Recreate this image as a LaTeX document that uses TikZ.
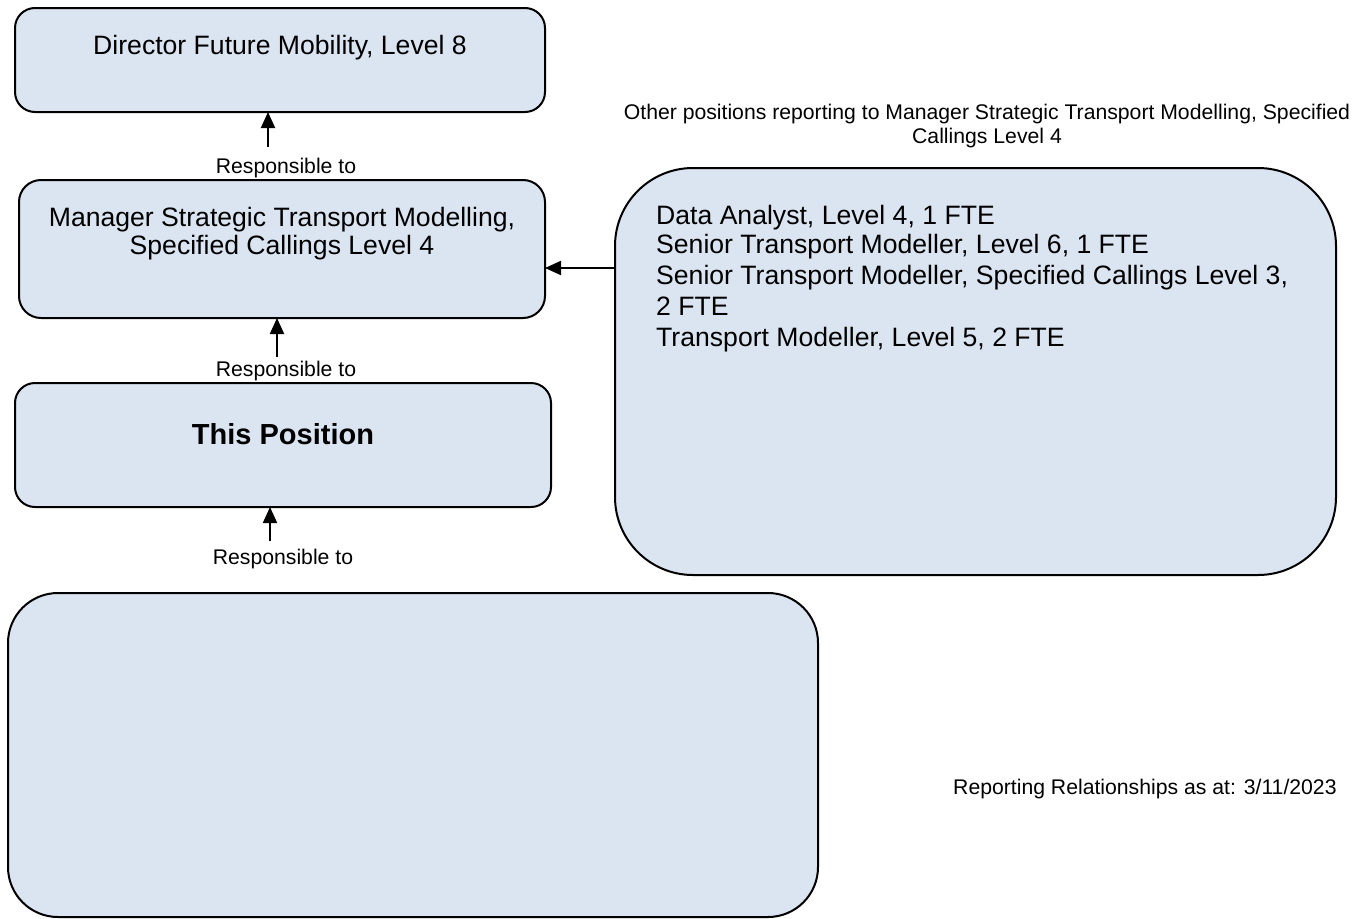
\documentclass[tikz,border=0pt]{standalone}
\usepackage{fontspec}
\setmainfont{Liberation Sans}
\usetikzlibrary{arrows.meta}
\definecolor{boxfill}{RGB}{219,229,241}
\begin{document}
\begin{tikzpicture}[x=1pt,y=-1pt,
  orgbox/.style={draw=black, line width=2pt, fill=boxfill, inner sep=0pt, outer sep=0pt, anchor=north west},
  maintext/.style={font=\fontsize{26.6}{31}\selectfont, inner sep=0pt, anchor=base},
  smalltext/.style={font=\fontsize{21.2}{24}\selectfont, inner sep=0pt, anchor=base},
  boldtext/.style={font=\fontsize{29}{34}\selectfont\bfseries, inner sep=0pt, anchor=base},
  listtext/.style={font=\fontsize{26.6}{31}\selectfont, inner sep=0pt, anchor=base west},
  conn/.style={line width=2pt, -{Triangle[length=16pt,width=14pt]}}
]
\useasboundingbox (0,0) rectangle (1370,918);
\fill[white] (0,0) rectangle (1370,918);

% boxes
\node[orgbox, rounded corners=20pt, minimum width=530pt, minimum height=104pt] (dir) at (15,8) {};
\node[orgbox, rounded corners=22pt, minimum width=526pt, minimum height=138pt] (mgr) at (19,180) {};
\node[orgbox, rounded corners=20pt, minimum width=536pt, minimum height=124pt] (pos) at (15,383) {};
\node[orgbox, rounded corners=50pt, minimum width=810pt, minimum height=324pt] (bot) at (8,593) {};
\node[orgbox, rounded corners=78pt, minimum width=721pt, minimum height=407pt] (oth) at (615,168) {};

% box texts
\node[maintext] (dirt) at (280,54.5) {Director Future Mobility, Level 8};
\node[maintext] (mgrt1) at (282,226.5) {Manager Strategic Transport Modelling,};
\node[maintext] (mgrt2) at (282,254.5) {Specified Callings Level 4};
\node[boldtext] (post) at (283,444.4) {This Position};

\node[listtext] (o1) at (656,224.5) {Data Analyst, Level 4, 1 FTE};
\node[listtext] (o2) at (656,253) {Senior Transport Modeller, Level 6, 1 FTE};
\node[listtext] (o3) at (656,284.5) {Senior Transport Modeller, Specified Callings Level 3,};
\node[listtext] (o4) at (656,315.5) {2 FTE};
\node[listtext] (o5) at (656,346.5) {Transport Modeller, Level 5, 2 FTE};

% header and footer texts
\node[smalltext] (hdr1) at (987,119.4) {Other positions reporting to Manager Strategic Transport Modelling, Specified};
\node[smalltext] (hdr2) at (987,143.4) {Callings Level 4};
\node[smalltext, anchor=base west] (date) at (953,794.4) {Reporting Relationships as at: 3/11/2023};

% labels
\node[smalltext] (r1) at (286,173.4) {Responsible to};
\node[smalltext] (r2) at (286,376.4) {Responsible to};
\node[smalltext] (r3) at (283,564.4) {Responsible to};

% connectors
\coordinate (a1) at (268,147);
\coordinate (a2) at (277,357);
\coordinate (a3) at (270,541);
\coordinate (hy) at (0,268);
\draw[conn] (a1) -- (a1 |- dir.south);
\draw[conn] (a2) -- (a2 |- mgr.south);
\draw[conn] (a3) -- (a3 |- pos.south);
\draw[conn] (oth.west |- hy) -- (mgr.east |- hy);
\end{tikzpicture}
\end{document}
